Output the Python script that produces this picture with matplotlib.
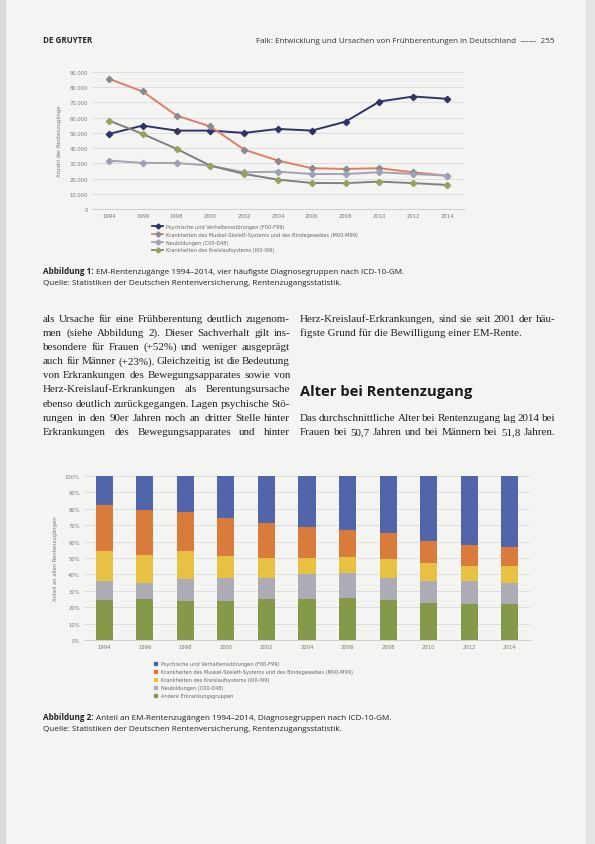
import matplotlib.pyplot as plt
from matplotlib.lines import Line2D
from matplotlib.patches import Patch, Rectangle

# data
years = [1994, 1996, 1998, 2000, 2002, 2004, 2006, 2008, 2010, 2012, 2014]

psych = [49300, 54800, 51500, 51500, 50000, 52600, 51500, 57400, 70600, 73900, 72400]
muskel = [85500, 77200, 61400, 54200, 39000, 31800, 26800, 26300, 26800, 24100, 21900]
neubild = [31800, 30300, 30200, 28500, 24100, 24500, 23000, 23000, 24100, 23000, 21900]
kreislauf = [58100, 49300, 39500, 28500, 23000, 19300, 17100, 17000, 18000, 17000, 15800]

share_andere = [24.2, 24.8, 23.8, 23.8, 24.8, 24.8, 25.8, 24.2, 22.8, 22.2, 21.8]
share_neubild = [11.8, 10.2, 13.1, 14.1, 13.1, 15.5, 15.1, 13.7, 13.1, 13.7, 13.1]
share_kreislauf = [18.0, 17.0, 17.1, 13.1, 12.1, 9.7, 9.5, 11.7, 11.1, 9.1, 10.1]
share_muskel = [28.3, 27.5, 24.2, 23.6, 21.2, 19.2, 16.7, 15.5, 13.5, 13.1, 11.5]
share_psych = [17.7, 20.5, 21.8, 25.4, 28.8, 30.8, 32.9, 34.9, 39.5, 41.9, 43.5]

lab_psych = "Psychische und Verhaltensstörungen (F00-F99)"
lab_muskel = "Krankheiten des Muskel-Skelett-Systems und des Bindegewebes (M00-M99)"
lab_neubild = "Neubildungen (C00-D48)"
lab_kreislauf = "Krankheiten des Kreislaufsystems (I00-I99)"
lab_andere = "Andere Erkrankungsgruppen"

left_col = [
    "als Ursache für eine Frühberentung deutlich zugenom-",
    "men (siehe Abbildung 2). Dieser Sachverhalt gilt ins-",
    "besondere für Frauen (+52%) und weniger ausgeprägt",
    "auch für Männer (+23%). Gleichzeitig ist die Bedeutung",
    "von Erkrankungen des Bewegungsapparates sowie von",
    "Herz-Kreislauf-Erkrankungen als Berentungsursache",
    "ebenso deutlich zurückgegangen. Lagen psychische Stö-",
    "rungen in den 90er Jahren noch an dritter Stelle hinter",
    "Erkrankungen des Bewegungsapparates und hinter",
]
right_col1 = [
    "Herz-Kreislauf-Erkrankungen, sind sie seit 2001 der häu-",
    "figste Grund für die Bewilligung einer EM-Rente.",
]
right_col2 = [
    "Das durchschnittliche Alter bei Rentenzugang lag 2014 bei",
    "Frauen bei 50,7 Jahren und bei Männern bei 51,8 Jahren.",
]

W, H = 595, 845
fig = plt.figure(figsize=(W / 100, H / 100), dpi=100, facecolor="#f4f4f3")
renderer = fig.canvas.get_renderer()

# scan edges
fig.patches.append(Rectangle((0, 0), 5 / W, 1, transform=fig.transFigure, color="#dadada", zorder=0))
fig.patches.append(Rectangle((586 / W, 0), 9 / W, 1, transform=fig.transFigure, color="#e4e4e4", zorder=0))


def fx(px):
    return px / W


def fy(py):
    return 1 - py / H


def put_runs(x, y, runs, size, family):
    # draw a sequence of text pieces next to each other
    xp = x
    for txt, weight in runs:
        t = fig.text(fx(xp), fy(y), txt, fontsize=size, family=family, weight=weight,
                     va="baseline", ha="left", color="#222222")
        bb = t.get_window_extent(renderer)
        xp += bb.width


def justify(x0, x1, y, line, size, family="Liberation Serif", full=True):
    words = line.split(" ")
    if not full or len(words) == 1:
        fig.text(fx(x0), fy(y), line, fontsize=size, family=family, va="baseline", color="#222222")
        return
    arts = []
    total = 0
    for w in words:
        t = fig.text(0, 0, w, fontsize=size, family=family, va="baseline", color="#222222")
        total += t.get_window_extent(renderer).width
        arts.append(t)
    gap = (x1 - x0 - total) / (len(words) - 1)
    xp = x0
    for t in arts:
        t.set_position((fx(xp), fy(y)))
        xp += t.get_window_extent(renderer).width + gap


# header
fig.text(fx(43), fy(43), "DE GRUYTER", fontsize=5.8, family="Open Sans", weight="bold", color="#222222")
fig.text(fx(555), fy(43), "Falk: Entwicklung und Ursachen von Frühberentungen in Deutschland  ——  255",
         fontsize=5.8, family="Open Sans", ha="right", color="#333333")

# ---------- chart 1: lines ----------
ax1 = fig.add_axes([fx(92), fy(210), fx(464) - fx(92), fy(73) - fy(210)])
ax1.set_facecolor("none")
x = list(range(len(years)))
series = [
    (psych, "#2f3468", "#2f3468", lab_psych),
    (muskel, "#de7e68", "#8c8a8c", lab_muskel),
    (neubild, "#a3a3b3", "#9ea0b6", lab_neubild),
    (kreislauf, "#7d827c", "#9aa060", lab_kreislauf),
]
handles = []
for vals, lc, mc, lab in series:
    ax1.plot(x, vals, color=lc, lw=1.4, marker="D", ms=3.2, mfc=mc, mec=mc, zorder=3)
    handles.append(Line2D([0], [0], color=lc, lw=1.3, marker="D", ms=2.6, mfc=mc, mec=mc, label=lab))
ax1.set_xlim(-0.5, len(years) - 0.5)
ax1.set_ylim(0, 90000)
ax1.set_yticks(range(0, 90001, 10000))
ax1.set_yticklabels(["0"] + [f"{v // 1000}.000" for v in range(10000, 90001, 10000)])
ax1.set_xticks(x)
ax1.set_xticklabels(years)
ax1.grid(axis="y", color="#dadada", lw=0.6)
ax1.set_axisbelow(True)
for s in ax1.spines.values():
    s.set_visible(False)
ax1.spines["bottom"].set_visible(True)
ax1.spines["bottom"].set_color("#d0d0d0")
ax1.tick_params(length=0, labelsize=3.8, colors="#777777", pad=3)
ax1.set_ylabel("Anzahl der Rentenzugänge", fontsize=3.8, color="#777777", labelpad=5)
fig.legend(handles=handles, loc="upper left", bbox_to_anchor=(fx(150), fy(223)), frameon=False,
           fontsize=3.6, labelcolor="#666666", handlelength=2.2, handletextpad=0.6,
           labelspacing=0.55, borderaxespad=0)

put_runs(43, 274, [("Abbildung 1: ", "bold"),
                   ("EM-Rentenzugänge 1994–2014, vier häufigste Diagnosegruppen nach ICD-10-GM.", "normal")],
         5.9, "Open Sans")
put_runs(43, 285, [("Quelle: Statistiken der Deutschen Rentenversicherung, Rentenzugangsstatistik.", "normal")],
         5.9, "Open Sans")

# ---------- body text ----------
y0 = 322
for i, line in enumerate(left_col):
    justify(43, 290, y0 + i * 14.1, line, 7.9)
for i, line in enumerate(right_col1):
    justify(300, 555, y0 + i * 14.1, line, 7.9, full=(i == 0))
fig.text(fx(300), fy(396), "Alter bei Rentenzugang", fontsize=10.6, family="Open Sans", weight="bold",
         color="#1a1a1a", va="baseline")
for i, line in enumerate(right_col2):
    justify(300, 555, 421 + i * 14.1, line, 7.9)

# ---------- chart 2: stacked bars ----------
ax2 = fig.add_axes([fx(84), fy(641), fx(530) - fx(84), fy(477) - fy(641)])
ax2.set_facecolor("none")
stack = [
    (share_andere, "#84994a", lab_andere),
    (share_neubild, "#adabb4", lab_neubild),
    (share_kreislauf, "#e6c143", lab_kreislauf),
    (share_muskel, "#d97b3b", lab_muskel),
    (share_psych, "#5264aa", lab_psych),
]
bottom = [0.0] * len(years)
for vals, col, lab in stack:
    ax2.bar(x, vals, width=0.42, bottom=bottom, color=col, zorder=3)
    bottom = [b + v for b, v in zip(bottom, vals)]
ax2.set_xlim(-0.5, len(years) - 0.5)
ax2.set_ylim(0, 100)
ax2.set_yticks(range(0, 101, 10))
ax2.set_yticklabels([f"{v}%" for v in range(0, 101, 10)])
ax2.set_xticks(x)
ax2.set_xticklabels(years)
ax2.grid(axis="y", color="#dadada", lw=0.6)
ax2.set_axisbelow(True)
for s in ax2.spines.values():
    s.set_visible(False)
ax2.spines["bottom"].set_visible(True)
ax2.spines["bottom"].set_color("#d0d0d0")
ax2.tick_params(length=0, labelsize=3.8, colors="#777777", pad=3)
ax2.set_ylabel("Anteil an allen Rentenzugängen", fontsize=3.8, color="#777777", labelpad=5)
leg_order = [stack[4], stack[3], stack[2], stack[1], stack[0]]
fig.legend(handles=[Patch(color=c, label=l) for _, c, l in leg_order], loc="upper left",
           bbox_to_anchor=(fx(152), fy(660)), frameon=False, fontsize=3.6, labelcolor="#666666",
           handlelength=0.6, handleheight=0.6, handletextpad=0.8, labelspacing=0.6, borderaxespad=0)

put_runs(43, 720, [("Abbildung 2: ", "bold"),
                   ("Anteil an EM-Rentenzugängen 1994–2014, Diagnosegruppen nach ICD-10-GM.", "normal")],
         5.9, "Open Sans")
put_runs(43, 731, [("Quelle: Statistiken der Deutschen Rentenversicherung, Rentenzugangsstatistik.", "normal")],
         5.9, "Open Sans")

fig.savefig("out.png", dpi=100, facecolor=fig.get_facecolor())
